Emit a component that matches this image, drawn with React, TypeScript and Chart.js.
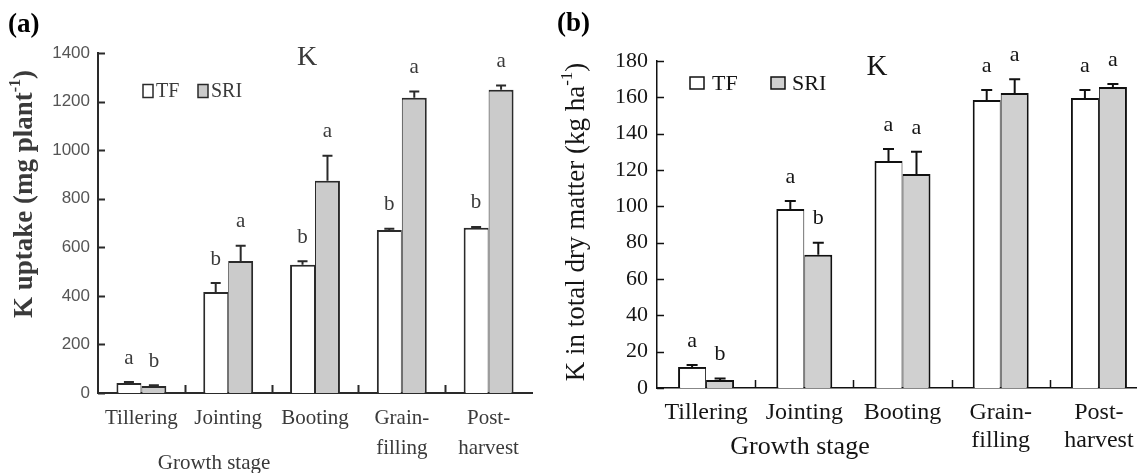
import React, { useEffect, useRef } from 'react';
import { Chart, registerables } from 'chart.js';

Chart.register(...registerables);

// ---------- Panel (a): K uptake (mg plant-1) ----------
const stagesA: (string | string[])[] = ['Tillering', 'Jointing', 'Booting', ['Grain-', 'filling'], ['Post-', 'harvest']];
const tfA = [41, 416, 528, 671, 680];
const tfErrA = [4, 37, 15, 5, 4];
const sriA = [29, 544, 874, 1216, 1249];
const sriErrA = [3, 62, 103, 25, 17];
const tfLettersA = ['a', 'b', 'b', 'b', 'b'];
const sriLettersA = ['b', 'a', 'a', 'a', 'a'];
const yMaxA = 1400;
const yStepA = 200;

// ---------- Panel (b): K in total dry matter (kg ha-1) ----------
const stagesB: (string | string[])[] = ['Tillering', 'Jointing', 'Booting', ['Grain-', 'filling'], ['Post-', 'harvest']];
const tfB = [11.6, 98.5, 125, 158.5, 159.6];
const tfErrB = [1.1, 4.5, 6.6, 5.5, 4.4];
const sriB = [4.4, 73.3, 117.8, 162.4, 165.7];
const sriErrB = [0.8, 6.7, 12.2, 7.6, 1.6];
const tfLettersB = ['a', 'a', 'a', 'a', 'a'];
const sriLettersB = ['b', 'b', 'a', 'a', 'a'];
const yMaxB = 180;
const yStepB = 20;

const seriesNames = ['TF', 'SRI'];

type PanelStyle = {
  width: number;
  height: number;
  plotLeft: number;
  plotTop: number;
  plotBottom: number;
  padRight: number;
  lineColor: string;
  textColor: string;
  sriFill: string;
  borderW: number;
  axisW: number;
  catPct: number;
  tickFont: any;
  tickColor: string;
  xFont: any;
  xPad: number;
  yPad: number;
  letterFont: string;
  letterGap: number;
  cap: number;
  errW: number;
  tag: string;
  tagX: number;
  tagY: number;
  yTitle: [string, string, string];
  yTitleFont: string;
  yTitleSupFont: string;
  yTitleX: number;
  yTitleY: number;
  xTitle: string;
  xTitleFont: string;
  xTitleX: number;
  xTitleY: number;
  kFont: string;
  kDX: number;
  kDY: number;
  legFont: string;
  legBox: [number, number];
  legDX: [number, number];
  legTextDX: [number, number];
  legDY: number;
};

function makePlugin(st: PanelStyle, errs: number[][], letters: string[][]) {
  return {
    id: 'extras',
    afterDatasetsDraw(chart: any) {
      const { ctx, chartArea: ca, scales } = chart;
      const x = scales.x;
      const y = scales.y;
      ctx.save();
      // error bars + significance letters
      chart.data.datasets.forEach((ds: any, di: number) => {
        const meta = chart.getDatasetMeta(di);
        meta.data.forEach((bar: any, i: number) => {
          const v = ds.data[i] as number;
          const yTop = y.getPixelForValue(v + errs[di][i]);
          const yv = y.getPixelForValue(v);
          ctx.strokeStyle = st.lineColor;
          ctx.lineWidth = st.errW;
          ctx.beginPath();
          ctx.moveTo(bar.x, yv);
          ctx.lineTo(bar.x, yTop);
          ctx.moveTo(bar.x - st.cap / 2, yTop);
          ctx.lineTo(bar.x + st.cap / 2, yTop);
          ctx.stroke();
          ctx.fillStyle = st.textColor;
          ctx.font = st.letterFont;
          ctx.textAlign = 'center';
          ctx.textBaseline = 'middle';
          ctx.fillText(letters[di][i], bar.x, yTop - st.letterGap);
        });
      });
      // inward y ticks
      ctx.strokeStyle = st.lineColor;
      ctx.lineWidth = st.axisW;
      ctx.beginPath();
      y.ticks.forEach((t: any) => {
        const py = Math.round(y.getPixelForValue(t.value)) + 0.5;
        ctx.moveTo(ca.left, py);
        ctx.lineTo(ca.left + 7, py);
      });
      // category dividers on x axis
      const n = chart.data.labels.length;
      for (let i = 0; i < n - 1; i++) {
        const px = Math.round((x.getPixelForValue(i) + x.getPixelForValue(i + 1)) / 2) + 0.5;
        ctx.moveTo(px, ca.bottom);
        ctx.lineTo(px, ca.bottom - 8);
      }
      ctx.stroke();

      // legend
      ctx.font = st.legFont;
      ctx.textAlign = 'left';
      ctx.textBaseline = 'middle';
      const ly = ca.top + st.legDY;
      seriesNames.forEach((name, k) => {
        const bx = ca.left + st.legDX[k];
        ctx.fillStyle = k === 0 ? '#ffffff' : st.sriFill;
        ctx.fillRect(bx, ly - st.legBox[1] / 2, st.legBox[0], st.legBox[1]);
        ctx.lineWidth = 1.5;
        ctx.strokeStyle = st.lineColor;
        ctx.strokeRect(bx, ly - st.legBox[1] / 2, st.legBox[0], st.legBox[1]);
        ctx.fillStyle = st.textColor;
        ctx.fillText(name, ca.left + st.legTextDX[k], ly + 1);
      });

      // "K" element label
      ctx.font = st.kFont;
      ctx.textAlign = 'center';
      ctx.fillText('K', ca.left + st.kDX, ca.top + st.kDY);

      // panel tag
      ctx.font = 'bold 27px "Liberation Serif", serif';
      ctx.textAlign = 'left';
      ctx.textBaseline = 'top';
      ctx.fillStyle = '#000';
      ctx.fillText(st.tag, st.tagX, st.tagY);

      // x title
      ctx.fillStyle = st.textColor;
      ctx.font = st.xTitleFont;
      ctx.textAlign = 'center';
      ctx.textBaseline = 'middle';
      ctx.fillText(st.xTitle, st.xTitleX, st.xTitleY);

      // y title (rotated, with superscript)
      ctx.save();
      ctx.translate(st.yTitleX, st.yTitleY);
      ctx.rotate(-Math.PI / 2);
      ctx.textAlign = 'left';
      ctx.textBaseline = 'middle';
      ctx.font = st.yTitleFont;
      const w1 = ctx.measureText(st.yTitle[0]).width;
      const w3 = ctx.measureText(st.yTitle[2]).width;
      ctx.font = st.yTitleSupFont;
      const w2 = ctx.measureText(st.yTitle[1]).width;
      let cx = -(w1 + w2 + w3) / 2;
      ctx.font = st.yTitleFont;
      ctx.fillText(st.yTitle[0], cx, 0);
      cx += w1;
      ctx.font = st.yTitleSupFont;
      ctx.fillText(st.yTitle[1], cx, -9);
      cx += w2;
      ctx.font = st.yTitleFont;
      ctx.fillText(st.yTitle[2], cx, 0);
      ctx.restore();

      ctx.restore();
    },
  };
}

function buildChart(
  canvas: HTMLCanvasElement,
  st: PanelStyle,
  labels: (string | string[])[],
  tf: number[],
  sri: number[],
  errs: number[][],
  letters: string[][],
  yMax: number,
  yStep: number
) {
  const bw = st.borderW;
  return new Chart(canvas, {
    type: 'bar',
    data: {
      labels: labels as any,
      datasets: [
        {
          label: 'TF',
          data: tf,
          backgroundColor: '#ffffff',
          borderColor: st.lineColor,
          borderWidth: { top: bw, left: bw, right: bw / 2, bottom: 0 } as any,
          borderSkipped: 'start',
          categoryPercentage: st.catPct,
          barPercentage: 1,
        },
        {
          label: 'SRI',
          data: sri,
          backgroundColor: st.sriFill,
          borderColor: st.lineColor,
          borderWidth: { top: bw, left: bw / 2, right: bw, bottom: 0 } as any,
          borderSkipped: 'start',
          categoryPercentage: st.catPct,
          barPercentage: 1,
        },
      ],
    },
    options: {
      responsive: false,
      animation: false,
      events: [],
      layout: { padding: { top: st.plotTop, right: st.padRight, bottom: 0, left: 0 } },
      plugins: { legend: { display: false }, tooltip: { enabled: false }, title: { display: false } },
      scales: {
        x: {
          type: 'category',
          offset: true,
          grid: { display: false, drawTicks: false },
          border: { display: true, color: st.lineColor, width: st.axisW },
          ticks: { color: st.textColor, font: st.xFont, padding: st.xPad, maxRotation: 0, autoSkip: false },
          afterFit: (s: any) => {
            s.height = st.height - st.plotBottom;
          },
        },
        y: {
          min: 0,
          max: yMax,
          grid: { display: false, drawTicks: false },
          border: { display: true, color: st.lineColor, width: st.axisW },
          ticks: {
            stepSize: yStep,
            color: st.tickColor,
            font: st.tickFont,
            padding: st.yPad,
            callback: (v: any) => String(v),
          },
          afterFit: (s: any) => {
            s.width = st.plotLeft;
          },
        },
      },
    } as any,
    plugins: [makePlugin(st, errs, letters)],
  });
}

const styleA: PanelStyle = {
  width: 560,
  height: 473,
  plotLeft: 98,
  plotTop: 53,
  plotBottom: 393,
  padRight: 28,
  lineColor: '#2a2a2a',
  textColor: '#3a3a3a',
  sriFill: '#cbcbcb',
  borderW: 2,
  axisW: 2,
  catPct: 0.575,
  tickFont: { family: '"Liberation Sans", sans-serif', size: 17 },
  tickColor: '#555555',
  xFont: { family: '"Liberation Serif", serif', size: 21, lineHeight: 1.43 },
  xPad: 10,
  yPad: 8,
  letterFont: '21px "Liberation Serif", serif',
  letterGap: 24,
  cap: 10,
  errW: 2,
  tag: '(a)',
  tagX: 8,
  tagY: 12,
  yTitle: ['K uptake (mg plant', '-1', ')'],
  yTitleFont: 'bold 27px "Liberation Serif", serif',
  yTitleSupFont: 'bold 16px "Liberation Serif", serif',
  yTitleX: 25,
  yTitleY: 194,
  xTitle: 'Growth stage',
  xTitleFont: '21px "Liberation Serif", serif',
  xTitleX: 214,
  xTitleY: 463,
  kFont: '28px "Liberation Serif", serif',
  kDX: 209,
  kDY: 5,
  legFont: '20px "Liberation Serif", serif',
  legBox: [10, 13],
  legDX: [45, 100],
  legTextDX: [58, 113],
  legDY: 38,
};

const styleB: PanelStyle = {
  width: 610,
  height: 473,
  plotLeft: 102,
  plotTop: 61,
  plotBottom: 388,
  padRight: 17,
  lineColor: '#111111',
  textColor: '#151515',
  sriFill: '#d0d0d0',
  borderW: 2,
  axisW: 1.5,
  catPct: 0.57,
  tickFont: { family: '"Liberation Serif", serif', size: 22 },
  tickColor: '#151515',
  xFont: { family: '"Liberation Serif", serif', size: 24, lineHeight: 1.2 },
  xPad: 10,
  yPad: 9,
  letterFont: '22px "Liberation Serif", serif',
  letterGap: 24,
  cap: 11,
  errW: 2,
  tag: '(b)',
  tagX: 2,
  tagY: 11,
  yTitle: ['K in total dry matter (kg ha', '-1', ')'],
  yTitleFont: '27px "Liberation Serif", serif',
  yTitleSupFont: '17px "Liberation Serif", serif',
  yTitleX: 22,
  yTitleY: 222,
  xTitle: 'Growth stage',
  xTitleFont: '26px "Liberation Serif", serif',
  xTitleX: 245,
  xTitleY: 447,
  kFont: '29px "Liberation Serif", serif',
  kDX: 220,
  kDY: 6,
  legFont: '22px "Liberation Serif", serif',
  legBox: [14, 12],
  legDX: [33, 114],
  legTextDX: [55, 135],
  legDY: 22,
};

export default function App() {
  const refA = useRef<HTMLCanvasElement>(null);
  const refB = useRef<HTMLCanvasElement>(null);

  useEffect(() => {
    const a = buildChart(refA.current!, styleA, stagesA, tfA, sriA, [tfErrA, sriErrA], [tfLettersA, sriLettersA], yMaxA, yStepA);
    const b = buildChart(refB.current!, styleB, stagesB, tfB, sriB, [tfErrB, sriErrB], [tfLettersB, sriLettersB], yMaxB, yStepB);
    return () => {
      a.destroy();
      b.destroy();
    };
  }, []);

  return (
    <div
      style={{
        position: 'fixed',
        left: 0,
        top: 0,
        width: 1137,
        height: 473,
        overflow: 'hidden',
        background: '#fff',
      }}
    >
      <canvas
        ref={refA}
        width={styleA.width}
        height={styleA.height}
        style={{ position: 'absolute', left: 0, top: 0, width: styleA.width, height: styleA.height }}
      />
      <canvas
        ref={refB}
        width={styleB.width}
        height={styleB.height}
        style={{ position: 'absolute', left: 555, top: 0, width: styleB.width, height: styleB.height }}
      />
    </div>
  );
}
